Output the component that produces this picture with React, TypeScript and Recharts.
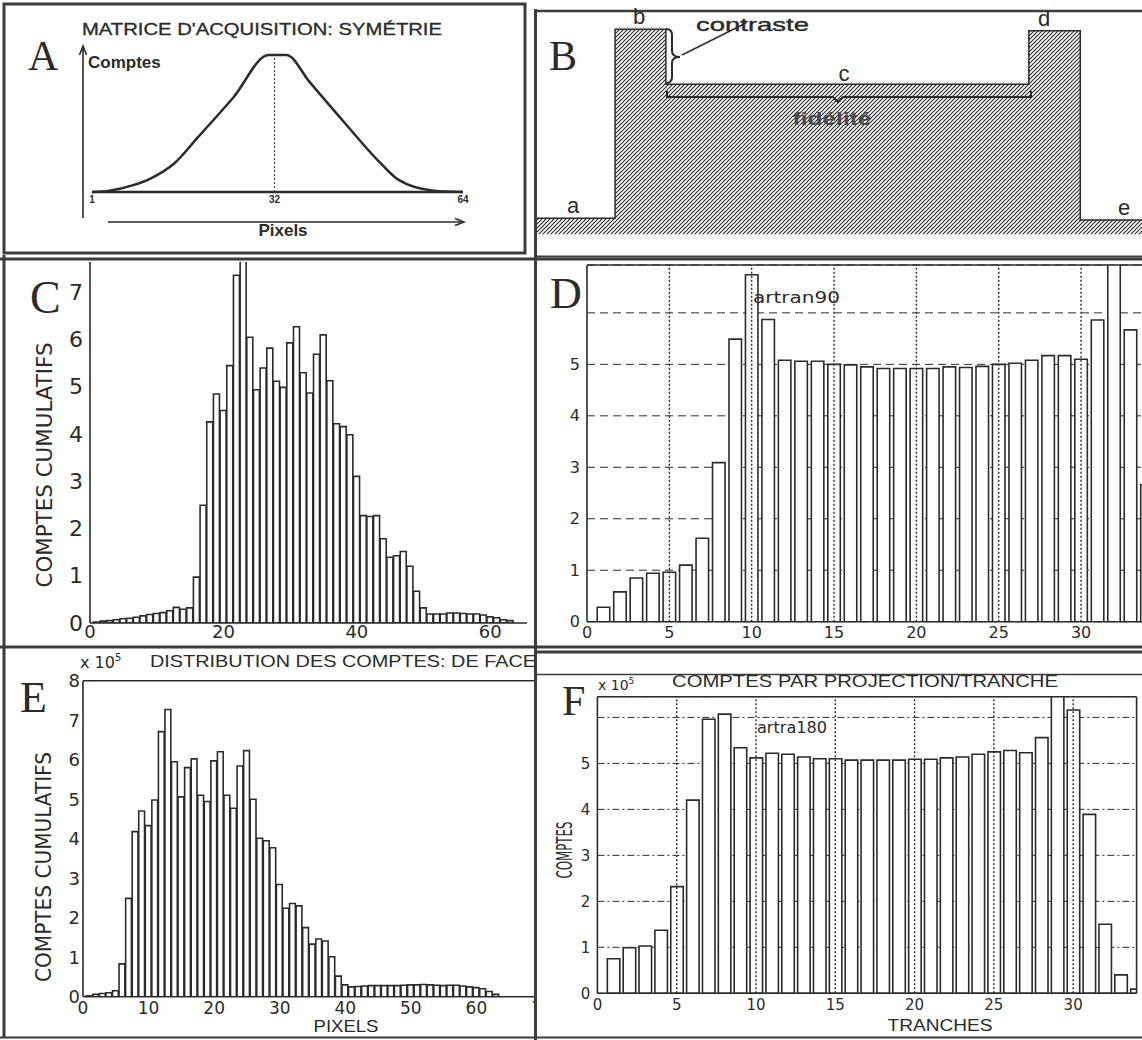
import React from "react";
import {
  LineChart,
  Line,
  AreaChart,
  Area,
  BarChart,
  Bar,
  XAxis,
  YAxis,
  CartesianGrid,
  ReferenceLine,
} from "recharts";

// A: acquisition matrix profile (symmetry)
const pixA = [1, 4, 8, 11, 15, 19, 25, 31, 34, 38, 44, 50, 53, 59, 64];
const cntA = [0, 0.01, 0.05, 0.1, 0.21, 0.4, 0.69, 1, 1, 0.8, 0.5, 0.21, 0.09, 0.01, 0];

// B: phantom step profile (relative position, relative level)
const posB = [0, 12.9, 21.3, 81.3, 89.8, 100];
const levelB = [0.078, 1, 0.732, 0.993, 0.07, 0.07];

// C: cumulative counts per pixel (x 10^5)
const valsC = [
  0.02, 0.04, 0.05, 0.07, 0.09, 0.1, 0.12, 0.15, 0.18, 0.2, 0.22, 0.26, 0.33, 0.29, 0.32,
  0.97, 2.49, 4.25, 4.84, 4.49, 5.44, 7.35, 8.5, 6.04, 4.93, 5.39, 5.81, 5.11, 4.98, 5.92,
  6.26, 5.29, 4.86, 5.68, 6.09, 5.12, 4.21, 4.15, 3.98, 3.1, 2.27, 2.25, 2.27, 1.78, 1.39,
  1.42, 1.51, 1.2, 0.67, 0.32, 0.19, 0.19, 0.19, 0.21, 0.21, 0.2, 0.19, 0.19, 0.17, 0.13,
  0.11, 0.07, 0.05,
];
const xTicksC = [0, 20, 40, 60];
const yTicksC = [0, 1, 2, 3, 4, 5, 6, 7];

// D: counts per slice, artran90 (x 10^5)
const valsD = [
  0.28, 0.58, 0.85, 0.94, 0.96, 1.1, 1.62, 3.09, 5.49, 6.74, 5.87, 5.08, 5.06, 5.06, 5.0,
  4.99, 4.95, 4.92, 4.92, 4.92, 4.92, 4.95, 4.94, 4.96, 5.0, 5.02, 5.08, 5.17, 5.17, 5.1,
  5.86, 8, 5.67, 2.66,
];
const xTicksD = [0, 5, 10, 15, 20, 25, 30];
const yTicksD = [0, 1, 2, 3, 4, 5, 6];

// E: count distribution, front view (x 10^5)
const valsE = [
  0.02, 0.06, 0.08, 0.1, 0.15, 0.83, 2.49, 4.18, 4.7, 4.33, 4.98, 6.71, 7.27, 5.95, 5.06,
  5.8, 6.02, 5.1, 4.94, 5.97, 6.2, 5.1, 4.77, 5.84, 6.23, 5.0, 4.01, 3.95, 3.77, 2.84,
  2.24, 2.36, 2.3, 1.75, 1.33, 1.46, 1.41, 1.01, 0.52, 0.3, 0.25, 0.26, 0.27, 0.28, 0.28,
  0.28, 0.28, 0.28, 0.29, 0.3, 0.3, 0.31, 0.3, 0.29, 0.28, 0.29, 0.29, 0.27, 0.25, 0.23,
  0.2, 0.13, 0.06,
];
const xTicksE = [0, 10, 20, 30, 40, 50, 60, 70];
const yTicksE = [0, 1, 2, 3, 4, 5, 6, 7, 8];

// F: counts per projection / slice, artra180 (x 10^5)
const valsF = [
  0.75, 0.99, 1.03, 1.37, 2.32, 4.2, 5.96, 6.07, 5.34, 5.12, 5.22, 5.2, 5.14, 5.1, 5.1,
  5.07, 5.07, 5.07, 5.07, 5.09, 5.09, 5.12, 5.14, 5.2, 5.25, 5.28, 5.23, 5.56, 7, 6.16,
  3.89, 1.5, 0.4, 0.09,
];
const xTicksF = [0, 5, 10, 15, 20, 25, 30];
const yTicksF = [0, 1, 2, 3, 4, 5, 6];
const gridX = [5, 10, 15, 20, 25, 30];

const INK = "#2b2b2b";
const TICK_FONT = '"DejaVu Sans", Verdana, sans-serif';
const SANS = '"Liberation Sans", Arial, sans-serif';
const SERIF = '"Liberation Serif", "Times New Roman", serif';
const NARROW = '"Liberation Sans Narrow", "DejaVu Sans Condensed", "Liberation Sans", sans-serif';

function PanelA() {
  const data = pixA.map((p, i) => ({ px: p, c: cntA[i] }));
  return (
    <div style={{ position: "absolute", left: 0, top: 0 }}>
      <LineChart width={527} height={256} data={data} margin={{ top: 55, right: 64, bottom: 44, left: 92 }}>
        <XAxis
          dataKey="px"
          type="number"
          domain={[1, 64]}
          ticks={[1, 32, 64]}
          interval={0}
          height={20}
          axisLine={{ stroke: INK, strokeWidth: 2.5 }}
          tickLine={false}
          tickSize={3}
          tickMargin={1}
          tick={{ fontSize: 10, fontWeight: 700, fill: INK, fontFamily: SANS }}
        />
        <YAxis hide domain={[0, 1]} />
        <ReferenceLine x={32} stroke={INK} strokeDasharray="2 2" strokeWidth={1} />
        <Line dataKey="c" type="monotone" stroke={INK} strokeWidth={2.5} dot={false} isAnimationActive={false} />
      </LineChart>
    </div>
  );
}

function PanelB() {
  const data = posB.map((p, i) => ({ pos: p, lvl: levelB[i] }));
  return (
    <div style={{ position: "absolute", left: 537, top: 0 }}>
      <AreaChart width={605} height={256} data={data} margin={{ top: 29.3, right: 0, bottom: 21.7, left: 0 }}>
        <XAxis dataKey="pos" type="number" domain={[0, 100]} hide />
        <YAxis hide domain={[0, 1]} />
        <Area
          type="stepAfter"
          dataKey="lvl"
          stroke={INK}
          strokeWidth={1.5}
          fill="url(#hatchB)"
          fillOpacity={1}
          isAnimationActive={false}
        />
      </AreaChart>
    </div>
  );
}

type HistProps = {
  left: number;
  top: number;
  width: number;
  height: number;
  clipWidth?: number;
  values: number[];
  xMax: number;
  xTicks: number[];
  yMax: number;
  yTicks: number[];
  yAxisWidth: number;
  xAxisHeight: number;
  marginTop: number;
  marginRight?: number;
  barSize: number;
  xFont: number;
  yFont: number;
  xGap: [number, number];
  yGap: [number, number];
  hideYTick?: number;
  grid?: string;
  vLines?: number[];
  topBorder?: boolean;
  rightBorder?: boolean;
  topTicks?: number[];
};

function Histogram(p: HistProps) {
  const data = p.values.map((v, i) => ({ bin: i + 1, v }));
  return (
    <div
      style={{
        position: "absolute",
        left: p.left,
        top: p.top,
        width: p.clipWidth ?? p.width,
        height: p.height,
        overflow: "hidden",
      }}
    >
      <BarChart
        width={p.width}
        height={p.height}
        data={data}
        margin={{ top: p.marginTop, right: p.marginRight ?? 0, bottom: 0, left: 0 }}
      >
        {p.grid && <CartesianGrid vertical={false} strokeDasharray={p.grid} stroke={INK} strokeWidth={1} />}
        <XAxis
          dataKey="bin"
          type="number"
          domain={[0, p.xMax]}
          allowDataOverflow
          ticks={p.xTicks}
          interval={0}
          height={p.xAxisHeight}
          axisLine={{ stroke: INK, strokeWidth: 1.6 }}
          tickLine={false}
          tickSize={p.xGap[0]}
          tickMargin={p.xGap[1]}
          tick={{ fontSize: p.xFont, fill: INK, fontFamily: TICK_FONT }}
        />
        {p.topTicks && (
          <XAxis
            xAxisId="top"
            orientation="top"
            dataKey="bin"
            type="number"
            domain={[0, p.xMax]}
            allowDataOverflow
            ticks={p.topTicks}
            interval={0}
            height={0}
            mirror
            axisLine={false}
            tick={false}
            tickSize={4}
            tickLine={{ stroke: INK, strokeWidth: 1.2 }}
          />
        )}
        <YAxis
          type="number"
          domain={[0, p.yMax]}
          allowDataOverflow
          ticks={p.yTicks}
          interval={0}
          width={p.yAxisWidth}
          axisLine={{ stroke: INK, strokeWidth: 1.6 }}
          tickLine={false}
          tickSize={p.yGap[0]}
          tickMargin={p.yGap[1]}
          tick={{ fontSize: p.yFont, fill: INK, fontFamily: TICK_FONT }}
          tickFormatter={(v: number) => (v === p.hideYTick ? "" : String(v))}
        />
        <Bar
          dataKey="v"
          fill="#ffffff"
          stroke={INK}
          strokeWidth={1.6}
          barSize={p.barSize}
          isAnimationActive={false}
        />
        {(p.vLines ?? []).map((x) => (
          <ReferenceLine key={x} x={x} stroke={INK} strokeDasharray="2 2" strokeWidth={1.4} />
        ))}
        {p.topBorder && <ReferenceLine y={p.yMax} stroke={INK} strokeWidth={1.6} />}
        {p.rightBorder && <ReferenceLine x={p.xMax} stroke={INK} strokeWidth={1.6} />}
      </BarChart>
    </div>
  );
}

function Overlay() {
  const t = { fill: INK };
  return (
    <svg
      width={1142}
      height={1040}
      style={{ position: "absolute", left: 0, top: 0, pointerEvents: "none" }}
    >
      {/* frames */}
      <g stroke="#3c3c3c" fill="none">
        <rect x={4} y={4} width={521} height={249} strokeWidth={3} />
        <line x1={535} y1={11} x2={1142} y2={11} strokeWidth={2.5} />
        <line x1={535} y1={256.5} x2={1142} y2={256.5} strokeWidth={2} />
        <line x1={0} y1={259} x2={1142} y2={259} strokeWidth={3} />
        <line x1={4} y1={255} x2={4} y2={1038} strokeWidth={3} />
        <line x1={535.5} y1={9} x2={535.5} y2={1040} strokeWidth={3} />
        <line x1={0} y1={647} x2={1142} y2={647} strokeWidth={3} />
        <line x1={537} y1={652} x2={1142} y2={652} strokeWidth={3} />
        <line x1={537} y1={674.5} x2={1142} y2={674.5} strokeWidth={1.5} />
        <line x1={0} y1={1037.5} x2={1142} y2={1037.5} strokeWidth={2} />
      </g>

      {/* panel letters */}
      <g fontFamily={SERIF} {...t}>
        <text x={28} y={70} fontSize={42}>A</text>
        <text x={549} y={70} fontSize={42}>B</text>
        <text x={30} y={313} fontSize={46}>C</text>
        <text x={550} y={308} fontSize={44}>D</text>
        <text x={20} y={712} fontSize={44}>E</text>
        <text x={562} y={715} fontSize={42}>F</text>
      </g>

      {/* A */}
      <text x={82} y={35} fontSize={16} fontFamily={SANS} textLength={360} lengthAdjust="spacingAndGlyphs" stroke={INK} strokeWidth={0.3} {...t}>
        MATRICE D'ACQUISITION: SYMÉTRIE
      </text>
      <g stroke={INK} strokeWidth={1.6} fill="none">
        <line x1={83} y1={218} x2={83} y2={47} />
        <polyline points="79.5,55 83,46 86.5,55" />
        <line x1={108} y1={222} x2={463} y2={222} />
        <polyline points="455,218.5 464,222 455,225.5" />
      </g>
      <text x={88} y={68} fontSize={17} fontWeight={700} fontFamily={SANS} {...t}>Comptes</text>
      <text x={283} y={236} fontSize={17} fontWeight={700} fontFamily={SANS} textAnchor="middle" {...t}>Pixels</text>

      {/* B */}
      <g fontFamily={SANS} fontSize={22} textAnchor="middle" {...t}>
        <text x={573} y={213}>a</text>
        <text x={639} y={24}>b</text>
        <text x={844} y={81}>c</text>
        <text x={1044} y={26}>d</text>
        <text x={1124} y={215}>e</text>
      </g>
      <text x={696} y={31} fontSize={19} fontFamily={SANS} textLength={113} lengthAdjust="spacingAndGlyphs" stroke={INK} strokeWidth={0.4} {...t}>
        contraste
      </text>
      <g stroke={INK} strokeWidth={2} fill="none">
        <path d="M666,29 Q672,29 672,35 L672,51 Q672,57 680,57 Q672,57 672,63 L672,77 Q672,83 666,83" />
        <line x1={682} y1={55} x2={746} y2={23} strokeWidth={1.4} />
        <path d="M667,91 L667,97 L833,97 L838,102 L843,97 L1031,97 L1031,91" />
      </g>
      <text x={832} y={125} fontSize={18} fontWeight={700} fontFamily={SANS} textAnchor="middle" textLength={79} lengthAdjust="spacingAndGlyphs" fill="#4a4a4a">
        fidélité
      </text>

      {/* C */}
      <text
        x={45}
        y={465}
        fontSize={21}
        fontFamily={NARROW}
        textAnchor="middle"
        dominantBaseline="central"
        textLength={245}
        lengthAdjust="spacingAndGlyphs"
        transform="rotate(-90 45 465)"
        {...t}
      >
        COMPTES CUMULATIFS
      </text>

      {/* D */}
      <text x={753} y={303} fontSize={16} fontFamily={TICK_FONT} textLength={87} lengthAdjust="spacingAndGlyphs" {...t}>
        artran90
      </text>

      {/* E */}
      <text x={80} y={668} fontSize={16} fontFamily={TICK_FONT} {...t}>
        x 10<tspan dy={-7} fontSize={10}>5</tspan>
      </text>
      <text x={150} y={667} fontSize={17} fontFamily={SANS} textLength={386} lengthAdjust="spacingAndGlyphs" {...t}>
        DISTRIBUTION DES COMPTES: DE FACE
      </text>
      <text
        x={44}
        y={867}
        fontSize={21}
        fontFamily={NARROW}
        textAnchor="middle"
        dominantBaseline="central"
        textLength={230}
        lengthAdjust="spacingAndGlyphs"
        transform="rotate(-90 44 867)"
        {...t}
      >
        COMPTES CUMULATIFS
      </text>
      <text x={346} y={1032} fontSize={17} fontFamily={SANS} textAnchor="middle" textLength={65} lengthAdjust="spacingAndGlyphs" {...t}>
        PIXELS
      </text>

      {/* F */}
      <text x={598} y={690} fontSize={14} fontFamily={TICK_FONT} {...t}>
        x 10<tspan dy={-6} fontSize={9}>5</tspan>
      </text>
      <text x={672} y={687} fontSize={17} fontFamily={SANS} textLength={386} lengthAdjust="spacingAndGlyphs" {...t}>
        COMPTES PAR PROJECTION/TRANCHE
      </text>
      <text x={757} y={733} fontSize={16} fontFamily={TICK_FONT} textLength={70} lengthAdjust="spacingAndGlyphs" {...t}>
        artra180
      </text>
      <text
        x={564}
        y={850}
        fontSize={22}
        fontFamily={NARROW}
        textAnchor="middle"
        dominantBaseline="central"
        textLength={57}
        lengthAdjust="spacingAndGlyphs"
        transform="rotate(-90 564 850)"
        {...t}
      >
        COMPTES
      </text>
      <text x={940} y={1031} fontSize={16} fontFamily={SANS} textAnchor="middle" textLength={105} lengthAdjust="spacingAndGlyphs" {...t}>
        TRANCHES
      </text>
    </svg>
  );
}

export default function App() {
  return (
    <div
      style={{
        position: "absolute",
        left: 0,
        top: 0,
        width: 1142,
        height: 1040,
        background: "#ffffff",
        overflow: "hidden",
      }}
    >
      <svg width={0} height={0} style={{ position: "absolute" }}>
        <defs>
          <pattern id="hatchB" patternUnits="userSpaceOnUse" width={4} height={4}>
            <path d="M-1,1 l2,-2 M0,4 l4,-4 M3,5 l2,-2" stroke="#222" strokeWidth={1.05} />
          </pattern>
        </defs>
      </svg>

      <PanelA />
      <PanelB />

      <Histogram
        left={0}
        top={258}
        width={527}
        height={387}
        values={valsC}
        xMax={65.5}
        xTicks={xTicksC}
        yMax={7.63}
        yTicks={yTicksC}
        yAxisWidth={90}
        xAxisHeight={22}
        marginTop={4}
        barSize={6}
        xFont={18}
        yFont={22}
        xGap={[1, 1]}
        yGap={[4, 3]}
      />

      <Histogram
        left={536}
        top={258}
        width={606}
        height={387}
        values={valsD}
        xMax={33.7}
        xTicks={xTicksD}
        yMax={6.93}
        yTicks={yTicksD}
        yAxisWidth={51}
        xAxisHeight={23.3}
        marginTop={7}
        barSize={12.5}
        xFont={16}
        yFont={16}
        xGap={[2, 3]}
        yGap={[2, 5]}
        hideYTick={6}
        grid="8 5"
        vLines={gridX}
        topBorder
      />

      <Histogram
        left={0}
        top={648}
        width={542}
        clipWidth={535}
        height={392}
        values={valsE}
        xMax={70}
        xTicks={xTicksE}
        yMax={8}
        yTicks={yTicksE}
        yAxisWidth={83}
        xAxisHeight={43.3}
        marginTop={32.7}
        barSize={5.8}
        xFont={17}
        yFont={18}
        xGap={[3, 2]}
        yGap={[1, 2]}
        topBorder
        topTicks={[10, 20, 30, 40, 50, 60]}
      />

      <Histogram
        left={537}
        top={675}
        width={605}
        height={362}
        values={valsF}
        xMax={34}
        xTicks={xTicksF}
        yMax={6.45}
        yTicks={yTicksF}
        yAxisWidth={60.4}
        xAxisHeight={43.7}
        marginTop={21.7}
        marginRight={5.4}
        barSize={12.5}
        xFont={15}
        yFont={15}
        xGap={[3, 3]}
        yGap={[3, 4]}
        hideYTick={6}
        grid="7 3 2 3"
        vLines={gridX}
        topBorder
        rightBorder
      />

      <Overlay />
    </div>
  );
}
